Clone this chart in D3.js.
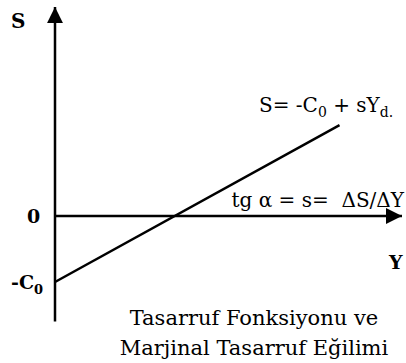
<!DOCTYPE html>
<html>
<head>
<meta charset="utf-8">
<script src="https://cdn.jsdelivr.net/npm/d3@7"></script>
<style>
  body { margin: 0; background: #fff; }
  text { font-family: "DejaVu Serif", "Liberation Serif", serif; fill: #000; }
</style>
</head>
<body>
<div id="chart"></div>
<script>
// data (arbitrary units)
const incomeDomain = [0, 10];        // Y axis extent
const savingDomain = [-1.6, 3.15];   // S axis extent
const C0 = 1;                        // autonomous dissaving
const mps = 0.29;                    // s, marginal propensity to save
const incomePoints = [0, 8.2];       // ends of the saving line
const titleLines = ['Tasarruf Fonksiyonu ve', 'Marjinal Tasarruf Eğilimi'];

const width = 406, height = 363;

const svg = d3.select('#chart').append('svg')
  .attr('width', width)
  .attr('height', height);

const x = d3.scaleLinear().domain(incomeDomain).range([55, 402]);
const y = d3.scaleLinear().domain(savingDomain).range([321.6, 8.1]);

// arrow heads
const defs = svg.append('defs');
defs.append('marker')
  .attr('id', 'arrow')
  .attr('viewBox', '0 0 10 10')
  .attr('refX', 10).attr('refY', 5)
  .attr('markerUnits', 'userSpaceOnUse')
  .attr('markerWidth', 16).attr('markerHeight', 16)
  .attr('orient', 'auto')
  .append('path')
  .attr('d', 'M0,0 L10,5 L0,10 Z')
  .attr('fill', '#000');

// vertical S axis
svg.append('line')
  .attr('x1', x(0)).attr('x2', x(0))
  .attr('y1', y(savingDomain[0])).attr('y2', y(savingDomain[1]) - 1)
  .attr('stroke', '#000').attr('stroke-width', 2.5)
  .attr('marker-end', 'url(#arrow)');

// horizontal Y axis
svg.append('line')
  .attr('x1', x(0)).attr('x2', x(incomeDomain[1]))
  .attr('y1', y(0)).attr('y2', y(0))
  .attr('stroke', '#000').attr('stroke-width', 2.5)
  .attr('marker-end', 'url(#arrow)');

// saving function S = -C0 + sY
const line = d3.line()
  .x(d => x(d))
  .y(d => y(-C0 + mps * d));

svg.append('path')
  .datum(incomePoints)
  .attr('d', line)
  .attr('fill', 'none')
  .attr('stroke', '#000')
  .attr('stroke-width', 2.5);

// axis labels
svg.append('text')
  .attr('x', 11).attr('y', 28)
  .attr('font-weight', 'bold').attr('font-size', 20)
  .text('S');

svg.append('text')
  .attr('x', 27).attr('y', y(0) + 7)
  .attr('font-weight', 'bold').attr('font-size', 19)
  .text('0');

let c0Label = svg.append('text')
  .attr('x', 11).attr('y', y(-C0) + 7)
  .attr('font-weight', 'bold').attr('font-size', 19);
c0Label.append('tspan').text('-C');
c0Label.append('tspan').attr('font-size', 13).attr('dy', 5).text('0');

svg.append('text')
  .attr('x', 389).attr('y', 269)
  .attr('font-weight', 'bold').attr('font-size', 19)
  .text('Y');

// equation
let eq = svg.append('text')
  .attr('x', 259).attr('y', y(-C0 + mps * incomePoints[1]) - 13)
  .attr('font-size', 20);
eq.append('tspan').text('S= -C');
eq.append('tspan').attr('font-size', 14).attr('dy', 5).text('0');
eq.append('tspan').attr('dy', -5).text(' + sY');
eq.append('tspan').attr('font-size', 14).attr('dy', 5).text('d.');

svg.append('text')
  .attr('x', 404).attr('y', y(0) - 9)
  .attr('text-anchor', 'end')
  .attr('font-size', 20)
  .style('white-space', 'pre')
  .text('tg α = s=  ΔS/ΔY');

// caption
svg.append('g')
  .selectAll('text')
  .data(titleLines)
  .join('text')
  .attr('x', 254)
  .attr('y', (d, i) => 325 + i * 30)
  .attr('text-anchor', 'middle')
  .attr('font-size', 21)
  .text(d => d);
</script>
</body>
</html>
